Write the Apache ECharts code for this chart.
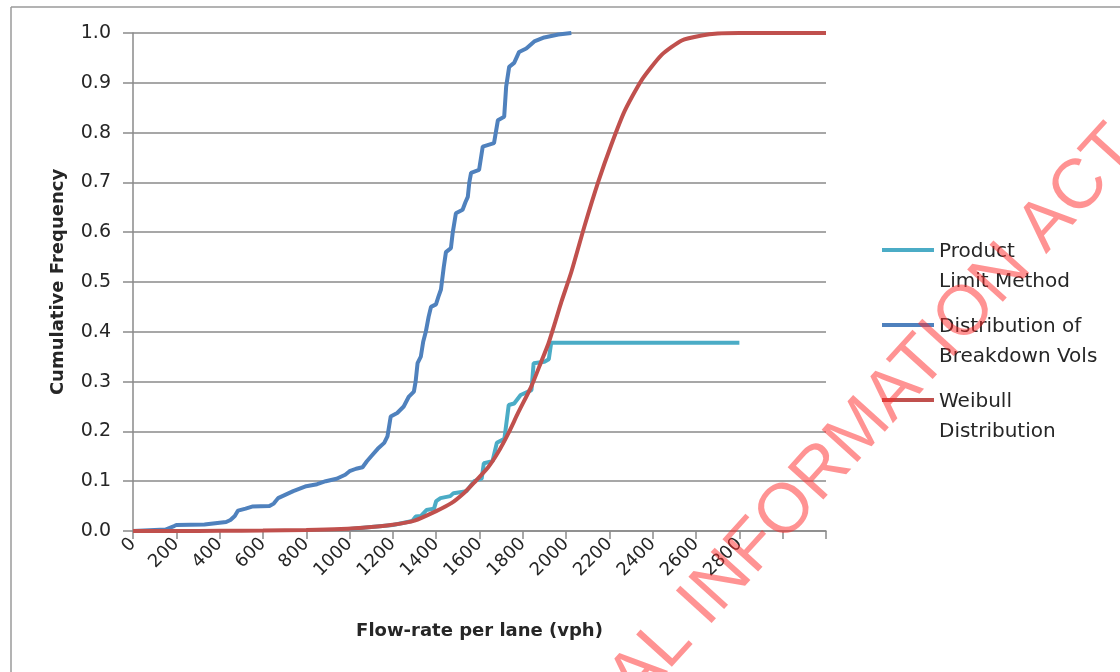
<!DOCTYPE html>
<html>
<head>
<meta charset="utf-8">
<script src="https://cdn.jsdelivr.net/npm/echarts@6/dist/echarts.min.js"></script>
<style>
html,body{margin:0;padding:0;background:#fff;}
#chart{width:1120px;height:672px;}
</style>
</head>
<body>
<div id="chart"></div>
<script>
// Series names
var seriesNames = ['Product\nLimit Method', 'Distribution of\nBreakdown Vols', 'Weibull\nDistribution'];

// Product Limit Method: [flow-rate (vph), cumulative frequency]
var productLimit = [
  [1000,0.004],[1100,0.008],[1200,0.012],[1290,0.02],[1305,0.029],[1329,0.03],[1355,0.042],[1390,0.045],
  [1400,0.06],[1420,0.066],[1465,0.07],[1480,0.076],[1540,0.08],[1575,0.1],[1610,0.105],[1620,0.136],
  [1660,0.14],[1680,0.177],[1715,0.185],[1735,0.253],[1760,0.256],[1790,0.273],[1840,0.283],[1850,0.337],
  [1900,0.34],[1920,0.345],[1931,0.378],[2800,0.378]
];

// Distribution of Breakdown Vols
var breakdownVols = [
  [0,0],[150,0.003],[190,0.01],[200,0.012],[330,0.013],[390,0.016],[430,0.018],[450,0.022],[470,0.03],
  [485,0.041],[520,0.045],[550,0.049],[630,0.05],[650,0.055],[670,0.066],[700,0.072],[740,0.08],[800,0.09],
  [850,0.094],[890,0.1],[940,0.105],[980,0.113],[1000,0.12],[1030,0.125],[1060,0.128],[1080,0.14],
  [1100,0.15],[1130,0.165],[1160,0.177],[1175,0.19],[1190,0.23],[1220,0.237],[1250,0.25],[1274,0.27],
  [1297,0.28],[1305,0.3],[1314,0.337],[1329,0.35],[1340,0.38],[1352,0.4],[1365,0.43],[1376,0.45],
  [1399,0.455],[1410,0.47],[1422,0.485],[1435,0.53],[1445,0.56],[1468,0.568],[1476,0.598],[1491,0.638],
  [1522,0.645],[1535,0.66],[1546,0.671],[1553,0.7],[1561,0.719],[1598,0.725],[1615,0.772],[1667,0.779],
  [1685,0.825],[1714,0.832],[1723,0.892],[1737,0.932],[1760,0.94],[1783,0.962],[1816,0.969],[1853,0.983],
  [1899,0.991],[1964,0.997],[2024,1.0]
];

// Weibull Distribution
var weibull = [
  [0,0],[200,0],[400,0.0005],[600,0.001],[800,0.002],[960,0.004],[1100,0.008],[1190,0.012],[1300,0.021],
  [1400,0.04],[1470,0.056],[1530,0.077],[1575,0.097],[1640,0.128],[1686,0.158],[1732,0.195],[1778,0.237],
  [1839,0.29],[1885,0.34],[1918,0.376],[1950,0.42],[1978,0.46],[2024,0.52],[2084,0.611],[2149,0.702],
  [2209,0.776],[2270,0.843],[2348,0.905],[2441,0.956],[2534,0.985],[2626,0.995],[2700,0.999],[2800,1],[3200,1]
];

// Axis settings / tick labels
var xMin = 0, xMax = 3200, xStep = 200, xLabelMax = 2800;
var yMin = 0, yMax = 1, yStep = 0.1;
var xTitle = 'Flow-rate per lane (vph)';
var yTitle = 'Cumulative Frequency';
var watermark = 'OFFICIAL INFORMATION ACT';

var colors = ['#4BACC6', '#4F81BD', '#C0504D'];
var FONT = '"DejaVu Sans", Verdana, sans-serif';
var gridColor = '#8a8a8a';
var textColor = '#262626';

// legend sample line sits at the top of a 52x38 icon box (aligned with first text line)
var legendIcon = 'path://M0,0L52,0L52,4L0,4Z M0,38L52,38L52,38.01L0,38.01Z';

var chart = echarts.init(document.getElementById('chart'), null, {renderer: 'canvas'});

chart.setOption({
  animation: false,
  backgroundColor: '#ffffff',
  color: colors,
  textStyle: {fontFamily: FONT},
  grid: {left: 133, right: 294, top: 33, bottom: 141},
  legend: {
    orient: 'vertical',
    left: 877,
    top: 232,
    itemWidth: 52,
    itemHeight: 38,
    itemGap: 15,
    icon: legendIcon,
    data: seriesNames,
    textStyle: {fontFamily: FONT, fontSize: 20, lineHeight: 30, color: textColor}
  },
  xAxis: {
    type: 'value',
    min: xMin, max: xMax, interval: xStep,
    name: xTitle,
    nameLocation: 'middle',
    nameGap: 91,
    nameTextStyle: {fontFamily: FONT, fontSize: 18, fontWeight: 'bold', color: textColor},
    axisLine: {show: true, lineStyle: {color: gridColor, width: 1.5}},
    axisTick: {show: true, length: 8, lineStyle: {color: gridColor, width: 1.5}},
    splitLine: {show: false},
    axisLabel: {
      rotate: 45, margin: 10, fontSize: 18, color: textColor, fontFamily: FONT,
      formatter: function (v) { return v <= xLabelMax ? String(v) : ''; }
    }
  },
  yAxis: {
    type: 'value',
    min: yMin, max: yMax, interval: yStep,
    name: yTitle,
    nameLocation: 'middle',
    nameGap: 66,
    nameTextStyle: {fontFamily: FONT, fontSize: 18, fontWeight: 'bold', color: textColor},
    axisLine: {show: true, lineStyle: {color: gridColor, width: 1.5}},
    axisTick: {show: true, length: 10, lineStyle: {color: gridColor, width: 1.5}},
    splitLine: {show: true, lineStyle: {color: gridColor, width: 1.5}},
    axisLabel: {
      margin: 22, fontSize: 19, color: textColor, fontFamily: FONT,
      formatter: function (v) { return v.toFixed(1); }
    }
  },
  series: [
    {name: seriesNames[0], type: 'line', data: productLimit, showSymbol: false, symbol: 'none',
     lineStyle: {width: 4, color: colors[0]}, itemStyle: {color: colors[0]}},
    {name: seriesNames[1], type: 'line', data: breakdownVols, showSymbol: false, symbol: 'none',
     lineStyle: {width: 4, color: colors[1]}, itemStyle: {color: colors[1]}},
    {name: seriesNames[2], type: 'line', data: weibull, showSymbol: false, symbol: 'none',
     smooth: 0.2,
     lineStyle: {width: 4, color: colors[2]}, itemStyle: {color: colors[2]}}
  ],
  graphic: [
    {type: 'line', z: 100, shape: {x1: 11, y1: 7, x2: 1120, y2: 7}, style: {stroke: '#9a9a9a', lineWidth: 1.5}},
    {type: 'line', z: 100, shape: {x1: 11, y1: 7, x2: 11, y2: 672}, style: {stroke: '#9a9a9a', lineWidth: 1.5}},
    {type: 'text', z: 200, x: 797, y: 500, rotation: 47.8 * Math.PI / 180,
     style: {text: watermark, font: '70px "Liberation Sans", Arial, sans-serif',
             fill: 'rgba(255,40,40,0.5)', align: 'center', verticalAlign: 'middle',
             textAlign: 'center', textVerticalAlign: 'middle'}}
  ]
});
</script>
</body>
</html>
